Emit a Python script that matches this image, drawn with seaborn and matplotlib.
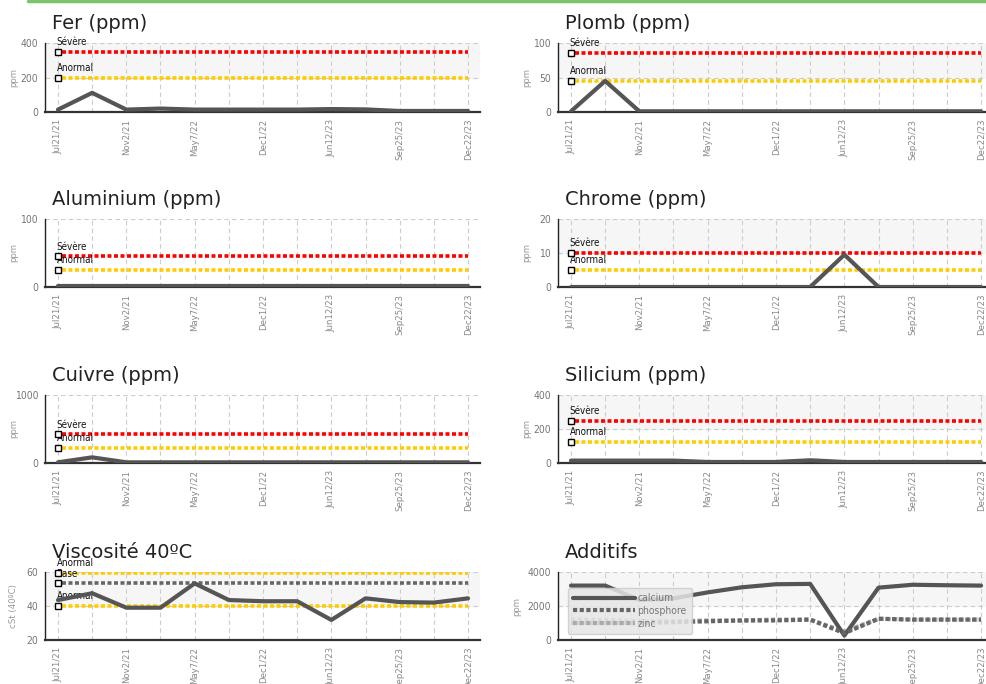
import seaborn as sns
import matplotlib.pyplot as plt
from matplotlib.lines import Line2D

# sample dates (13 samples, every other one is labelled)
dates = ["Jul21/21", "", "Nov2/21", "", "May7/22", "", "Dec1/22", "",
         "Jun12/23", "", "Sep25/23", "", "Dec22/23"]
idx = list(range(len(dates)))

fer = [14, 111, 14, 20, 14, 14, 14, 14, 17, 15, 6, 6, 6]
plomb = [1, 45, 1, 1, 1, 1, 1, 1, 1, 1, 1, 1, 1]
aluminium = [1, 1, 1, 1, 1, 1, 1, 1, 1, 1, 1, 1, 1]
chrome = [0, 0, 0, 0, 0, 0, 0, 0, 9.5, 0, 0, 0, 0]
cuivre = [10, 83, 10, 10, 10, 10, 10, 10, 10, 10, 10, 10, 10]
silicium = [14, 14, 14, 14, 6, 6, 6, 16, 6, 6, 6, 6, 6]
viscosite = [43.5, 47.5, 39, 39, 53.3, 43.5, 42.8, 42.8, 31.8, 44.5, 42.3, 42, 44.5]

calcium = [3200, 3200, 2350, 2450, 2800, 3100, 3280, 3300, 260, 3080, 3250, 3220, 3200]
phosphore = [1000, 1000, 1000, 1050, 1100, 1150, 1150, 1200, 400, 1250, 1200, 1200, 1200]
zinc = [1200, 1200, 1100, 1100, 1150, 1150, 1200, 1200, 500, 1250, 1200, 1200, 1200]

# panel title, series, y ticks, (label, level, colour) thresholds, y label
panels = [
    ("Fer (ppm)", fer, [0, 200, 400], [("Sévère", 350, "#ff0000"), ("Anormal", 200, "#ffcc00")], "ppm"),
    ("Plomb (ppm)", plomb, [0, 50, 100], [("Sévère", 85, "#ff0000"), ("Anormal", 45, "#ffcc00")], "ppm"),
    ("Aluminium (ppm)", aluminium, [0, 100], [("Sévère", 45, "#ff0000"), ("Anormal", 25, "#ffcc00")], "ppm"),
    ("Chrome (ppm)", chrome, [0, 10, 20], [("Sévère", 10, "#ff0000"), ("Anormal", 5, "#ffcc00")], "ppm"),
    ("Cuivre (ppm)", cuivre, [0, 1000], [("Sévère", 420, "#ff0000"), ("Anormal", 220, "#ffcc00")], "ppm"),
    ("Silicium (ppm)", silicium, [0, 200, 400], [("Sévère", 250, "#ff0000"), ("Anormal", 125, "#ffcc00")], "ppm"),
    ("Viscosité 40ºC", viscosite, [20, 40, 60],
     [("Anormal", 59.2, "#ffcc00"), ("Base", 53.3, "#666666"), ("Anormal", 40, "#ffcc00")], "cSt (40ºC)"),
    ("Additifs", None, [0, 2000, 4000], [], "ppm"),
]

sns.set_style("white")
plt.rcParams["font.family"] = ["DejaVu Sans"]
small = dict(family="DejaVu Sans", fontstretch="condensed")

W, H = 986, 684
fig = plt.figure(figsize=(W / 100, H / 100), dpi=100)

# green rule on top
fig.add_artist(Line2D([28 / W, 1], [1 - 1 / H, 1 - 1 / H], color="#7dc36b", linewidth=2.5))

col_x = [45, 558]
row_y = [(43, 112), (219, 287), (395, 463), (572, 640)]
ax_w = 435

for i, (title, values, yticks, limits, ylab) in enumerate(panels):
    r, c = divmod(i, 2)
    top, bot = row_y[r]
    ax = fig.add_axes([col_x[c] / W, 1 - bot / H, ax_w / W, (bot - top) / H])
    ax.set_xlim(-0.38, 12.35)
    ax.set_ylim(yticks[0], yticks[-1])

    # alternate band shading
    if len(yticks) > 2:
        ax.axhspan(yticks[1], yticks[2], color="#f6f6f6", zorder=0)

    ax.set_xticks(idx[::2])
    ax.set_xticks(idx[1::2], minor=True)
    ax.set_xticklabels([d for d in dates if d], rotation=90, fontsize=6.8,
                       color="#888888", **small)
    ax.set_yticks(yticks)
    ax.set_yticklabels([str(t) for t in yticks], fontsize=7.5, color="#777777", **small)
    ax.grid(True, which="both", axis="x", color="#cccccc", linestyle=(0, (4, 3)), linewidth=0.8)
    ax.grid(True, which="major", axis="y", color="#cccccc", linestyle=(0, (4, 3)), linewidth=0.8)
    ax.tick_params(axis="x", which="major", length=3, width=1, color="#333333", pad=2)
    ax.tick_params(axis="x", which="minor", length=0)
    ax.tick_params(axis="y", length=4, width=1, color="#222222", pad=1)
    for s in ["top", "right"]:
        ax.spines[s].set_visible(False)
    ax.spines["left"].set_color("#222222")
    ax.spines["left"].set_linewidth(1)
    ax.spines["bottom"].set_color("#333333")
    ax.spines["bottom"].set_linewidth(1.6)
    ax.set_ylabel(ylab, fontsize=6.8, color="#999999", **small)
    ax.yaxis.set_label_coords(-0.084 if values is None else -0.062, 0.5)

    fig.text((col_x[c] + 7) / W, 1 - (top - 14) / H, title, fontsize=14, color="#222222")

    for lab, lvl, colr in limits:
        ax.hlines(lvl, 0.12, 12, colors=colr, linewidth=2.6, linestyles=[(0, (1.1, 0.7))], zorder=3)
        ax.plot(0, lvl, marker="s", ms=4.5, mfc="white", mec="black", mew=1, zorder=5, clip_on=False)
        ax.annotate(lab, (0, lvl), xytext=(-1, 3.5), textcoords="offset points",
                    fontsize=7, color="#111111", ha="left", va="bottom", **small)

    if values is not None:
        sns.lineplot(x=idx, y=values, ax=ax, color="#555555", linewidth=3, zorder=4)
    else:
        sns.lineplot(x=idx, y=calcium, ax=ax, color="#555555", linewidth=3, label="calcium", zorder=4)
        sns.lineplot(x=idx, y=phosphore, ax=ax, color="#666666", linewidth=3,
                     linestyle=(0, (1, 0.6)), label="phosphore", zorder=4)
        sns.lineplot(x=idx, y=zinc, ax=ax, color="#aaaaaa", linewidth=3,
                     linestyle=(0, (1, 0.6)), label="zinc", zorder=3)
        leg = ax.legend(loc="upper left", bbox_to_anchor=(0.01, 0.84), handlelength=6,
                        fontsize=7.5, frameon=True, fancybox=True, borderpad=0.5,
                        labelspacing=0.25, handletextpad=0.2)
        leg.get_frame().set_facecolor("#e6e6e6")
        leg.get_frame().set_edgecolor("#cccccc")
        leg.get_frame().set_alpha(0.85)
        for t in leg.get_texts():
            t.set_color("#777777")
            t.set_fontstretch("condensed")

fig.savefig("out.png", dpi=100)
